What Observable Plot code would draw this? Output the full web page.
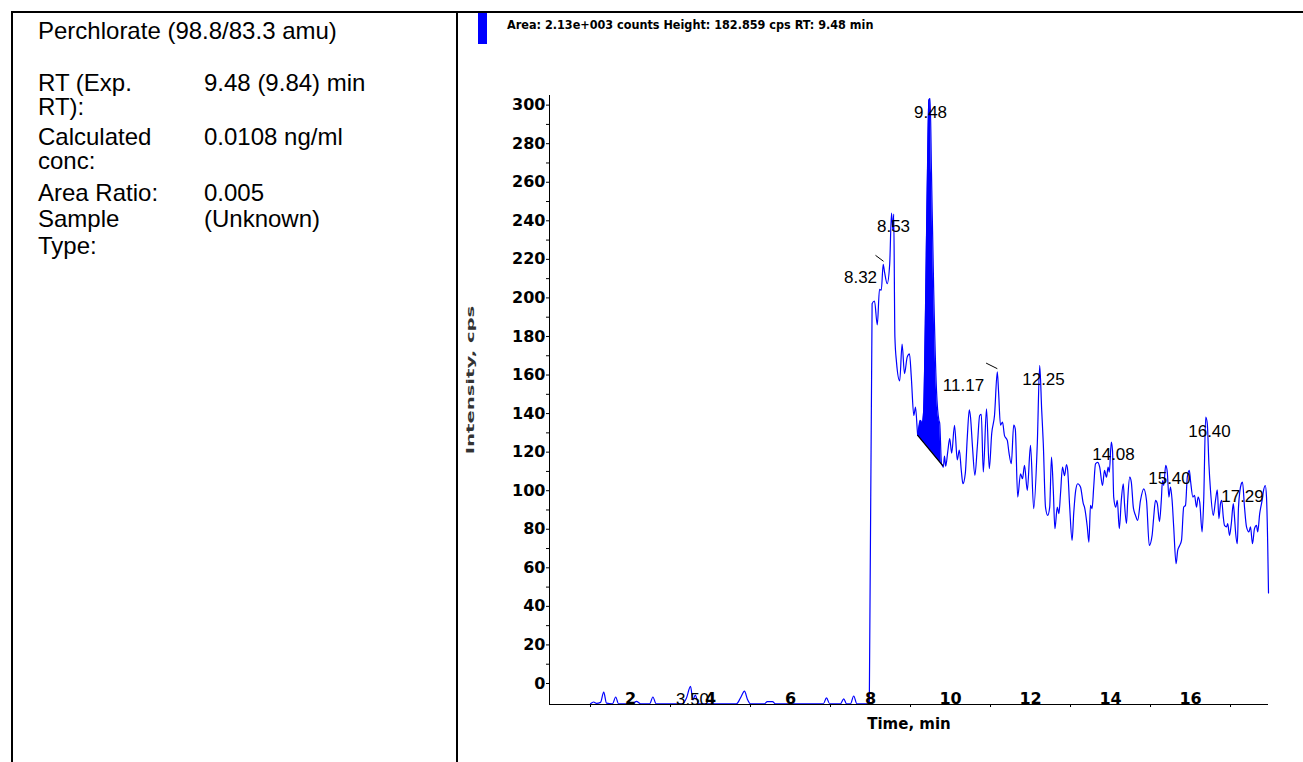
<!DOCTYPE html>
<html>
<head>
<meta charset="utf-8">
<script src="https://cdn.jsdelivr.net/npm/d3@7"></script>
<script src="https://cdn.jsdelivr.net/npm/@observablehq/plot@0.6"></script>
<style>
  body { margin: 0; background: #fff; }
  #page { position: relative; width: 1303px; height: 762px; overflow: hidden; font-family: "Liberation Sans", Arial, sans-serif; color: #000; }
  .ln { position: absolute; background: #000; }
  .t { position: absolute; font-size: 24px; line-height: 21px; white-space: nowrap; }
  #hdr { position: absolute; left: 507px; top: 19px; font-family: "Liberation Sans Narrow", "DejaVu Sans Condensed", sans-serif; font-weight: bold; font-size: 12.5px; line-height: 12.5px; white-space: nowrap; }
  #xlab { position: absolute; left: 909px; top: 717px; transform: translateX(-50%); font-family: "DejaVu Sans", sans-serif; font-weight: bold; font-size: 15px; line-height: 15px; white-space: nowrap; }
  #ylab { position: absolute; left: 471px; top: 380px; transform: translate(-50%, -50%) rotate(-90deg) scaleX(1.96); font-family: "DejaVu Sans", sans-serif; font-weight: bold; font-size: 10px; line-height: 10px; white-space: nowrap; color: #333; }
  #chart { position: absolute; left: 457px; top: 13px; }
</style>
</head>
<body>
<div id="page">
  <div class="ln" style="left:11px;top:11px;width:1292px;height:2px"></div>
  <div class="ln" style="left:11px;top:11px;width:2px;height:751px"></div>
  <div class="ln" style="left:456px;top:11px;width:2px;height:751px"></div>

  <div id="info"></div>

  <div style="position:absolute;left:478px;top:13px;width:9px;height:31px;background:#0000ff"></div>
  <div id="hdr"></div>
  <div id="ylab"></div>
  <div id="xlab"></div>
  <div id="chart"></div>
</div>
<script>
// ---- Left panel text ----
const infoLabels = ["RT (Exp.", "RT):", "Calculated", "conc:", "Area Ratio:", "Sample", "Type:"];
const infoValues = ["9.48 (9.84) min", "", "0.0108 ng/ml", "", "0.005", "(Unknown)", ""];
const infoTitle = "Perchlorate (98.8/83.3 amu)";
const infoBaselines = [91, 115, 145, 169, 201, 227, 254];

// ---- Chart texts ----
const headerText = "Area: 2.13e+003 counts Height: 182.859 cps RT: 9.48 min";
const xTitle = "Time, min";
const yTitle = "Intensity, cps";

// ---- Axis ticks ----
const yMajor = [0, 20, 40, 60, 80, 100, 120, 140, 160, 180, 200, 220, 240, 260, 280, 300];
const yMinor = [10, 30, 50, 70, 90, 110, 130, 150, 170, 190, 210, 230, 250, 270, 290];
const xMajor = [2, 4, 6, 8, 10, 12, 14, 16];
const xMinor = [1, 3, 5, 7, 9, 11, 13, 15, 17];

// ---- Chromatogram trace (retention time, min / intensity) ----
const rt = [
  1.00, 1.08, 1.15, 1.25, 1.33, 1.40, 1.55, 1.63, 1.70, 2.05, 2.15, 2.25, 2.48, 2.56, 2.64,
  3.30, 3.40, 3.50, 3.56, 3.62, 3.70, 4.65, 4.75, 4.85, 4.92, 5.00, 5.35, 5.42, 5.55, 5.62,
  6.82, 6.90, 6.98, 7.25, 7.33, 7.40, 7.50, 7.58, 7.66, 7.97,
  8.04, 8.10, 8.17, 8.225, 8.27, 8.317, 8.35, 8.417, 8.48, 8.525, 8.56, 8.58, 8.61, 8.65,
  8.73, 8.79, 8.85, 8.917, 8.975, 9.02, 9.083, 9.125, 9.17, 9.18, 9.25, 9.29, 9.33, 9.37,
  9.417, 9.46, 9.49, 9.525, 9.58, 9.65, 9.71, 9.73, 9.775, 9.80, 9.82, 9.85, 9.88, 9.93,
  9.98, 10.03, 10.10, 10.17, 10.22, 10.27, 10.31, 10.37, 10.42, 10.47, 10.50, 10.55, 10.61,
  10.67, 10.73, 10.77, 10.82, 10.90, 10.97, 11.03, 11.10, 11.17, 11.20, 11.25, 11.30, 11.35,
  11.42, 11.46, 11.52, 11.58, 11.62, 11.68, 11.75, 11.80, 11.85, 11.92, 12.00, 12.08, 12.17,
  12.23, 12.28, 12.32, 12.375, 12.43, 12.48, 12.525, 12.57, 12.61, 12.67, 12.71, 12.75, 12.80,
  12.85, 12.90, 12.93, 12.98, 13.04, 13.08, 13.13, 13.18, 13.25, 13.32, 13.35, 13.42, 13.46,
  13.50, 13.54, 13.58, 13.625, 13.68, 13.73, 13.80, 13.85, 13.90, 13.94, 13.97, 14.02, 14.05,
  14.08, 14.13, 14.17, 14.22, 14.27, 14.32, 14.35, 14.40, 14.43, 14.48, 14.52, 14.57, 14.625,
  14.68, 14.75, 14.83, 14.90, 14.97, 15.04, 15.08, 15.125, 15.17, 15.225, 15.27, 15.30, 15.33,
  15.38, 15.42, 15.46, 15.50, 15.54, 15.58, 15.64, 15.68, 15.73, 15.775, 15.83, 15.875, 15.92,
  15.97, 16.00, 16.06, 16.10, 16.15, 16.19, 16.23, 16.29, 16.33, 16.38, 16.42, 16.46, 16.50,
  16.57, 16.625, 16.67, 16.71, 16.75, 16.78, 16.82, 16.85, 16.90, 16.93, 16.975, 17.02, 17.07,
  17.10, 17.13, 17.17, 17.20, 17.27, 17.30, 17.35, 17.40, 17.46, 17.50, 17.55, 17.60, 17.65,
  17.68, 17.73, 17.79, 17.83, 17.87, 17.90, 17.93, 17.95
];
const cps = [
  -10.5, -9.6, -10.3, -9.8, -4.5, -10.2, -10.5, -7, -10.5, -10.5, -9.3, -10.5, -10.5, -7, -10.5,
  -10.5, -7.5, -1.5, -8.5, -6, -10.5, -10.5, -7.5, -4, -8, -10.5, -10.5, -9.4, -9.4, -10.5,
  -10.5, -7.5, -10.5, -10.5, -8, -10.5, -10.5, -6.5, -10.5, -10.5,
  197, 198.4, 186, 204.5, 204, 217.4, 213.5, 207.4, 217.6, 244, 235, 243.5, 179.7, 166.7,
  157, 176, 160.7, 169.3, 171, 159, 139, 143.4, 131.3, 128.7, 136.5, 135, 141.7, 186.7,
  255.8, 302.5, 303.4, 264.5, 204, 152, 136.5, 135, 114, 113.1, 112.2, 118, 112.7, 120,
  127, 119.5, 133.9, 116, 121.1, 110.5, 103.6, 109, 127.8, 142, 138.2, 122.7, 108,
  122.7, 139, 139.6, 109.7, 142.5, 111.4, 129.6, 139, 161.6, 152, 134, 135.6, 128.6,
  126.1, 120, 114, 134, 132, 96.7, 108.8, 106.2, 113.1, 100.2, 123.5, 90.7, 124.4,
  165, 141.7, 124.4, 91.5, 87.2, 91.5, 117.4, 100.2, 80.3, 91.5, 88.1, 98.4, 112.2,
  107.8, 113.6, 110.5, 91.5, 74.2, 88.1, 100.2, 103.6, 101.9, 93.3, 91.5, 81.2, 73.3,
  92.4, 90.7, 101.9, 113.9, 114.7, 112.2, 102.7, 110.5, 107, 112.2, 109.6, 125.2, 120.9,
  96.7, 91.5, 95, 80.3, 95, 103.6, 93.3, 83, 95, 107, 104.5, 91.5, 87.2,
  84.6, 95, 101, 95, 71.6, 76.8, 86.3, 95, 93.3, 84, 95, 105.3, 102.7,
  113.1, 109.6, 96.7, 101.9, 95, 81.2, 62.1, 69, 71.6, 74.2, 91.5, 92.4, 107,
  110.5, 105.3, 96.7, 97.6, 91.5, 96.7, 94.1, 78.6, 95, 138.2, 134.7, 114, 100.2,
  87.2, 95, 100.5, 85.5, 93.3, 95, 86.3, 82, 81.2, 82.9, 76.8, 82.9, 93.3,
  86.3, 77.7, 72.5, 91.5, 103.6, 104.5, 91.5, 81.2, 78.6, 81.2, 72.5, 80.3, 82,
  78.6, 88.1, 95, 100.5, 102.7, 96.7, 72.5, 47
];

// ---- Integrated peak (baseline endpoints) ----
const baseT = [9.18, 9.80];
const baseV = [128.7, 113.1];

// ---- Peak labels ----
const peakText = ["9.48", "8.53", "8.32", "11.17", "12.25", "14.08", "15.40", "16.40", "17.29", "3.50"];
const peakT = [9.50, 8.575, 7.75, 10.325, 12.325, 14.075, 15.475, 16.475, 17.30, 3.55];
const peakV = [296, 237, 210.7, 154.6, 157.8, 118.8, 106.4, 130.8, 97, -8.3];

// ---- Peak marker ticks ----
const markT1 = [8.125, 10.89];
const markV1 = [222.1, 166.2];
const markT2 = [8.325, 11.17];
const markV2 = [219.0, 163.3];

// ---- Build left panel ----
const info = document.getElementById("info");
function addText(str, left, baseline) {
  const d = document.createElement("div");
  d.className = "t";
  d.textContent = str;
  d.style.left = left + "px";
  d.style.top = (baseline - 18.8) + "px";
  info.appendChild(d);
}
addText(infoTitle, 38, 39);
infoLabels.forEach((s, i) => addText(s, 38, infoBaselines[i]));
infoValues.forEach((s, i) => { if (s) addText(s, 204, infoBaselines[i]); });

document.getElementById("hdr").textContent = headerText;
document.getElementById("xlab").textContent = xTitle;
document.getElementById("ylab").textContent = yTitle;

// ---- Chart ----
const trace = rt.map((t, i) => ({t, v: cps[i]}));
const interpBase = t => baseV[0] + (baseV[1] - baseV[0]) * (t - baseT[0]) / (baseT[1] - baseT[0]);
const fillData = trace.filter(d => d.t >= baseT[0] && d.t <= baseT[1]).map(d => ({t: d.t, v: d.v, b: interpBase(d.t)}));
const baseLine = baseT.map((t, i) => ({t, v: baseV[i]}));
const peaks = peakText.map((s, i) => ({s, t: peakT[i], v: peakV[i]}));
const marks = markT1.map((t, i) => ({t1: t, v1: markV1[i], t2: markT2[i], v2: markV2[i]}));

const xMin = -0.025, xMax = 17.95, yMin = -10.9, yMax = 305;
const tickFont = "DejaVu Sans";

const chart = Plot.plot({
  width: 846,
  height: 749,
  marginLeft: 92,
  marginRight: 35,
  marginTop: 82,
  marginBottom: 58,
  style: {background: "transparent", overflow: "visible"},
  x: {domain: [xMin, xMax], label: null},
  y: {domain: [yMin, yMax], label: null},
  marks: [
    Plot.areaY(fillData, {x: "t", y1: "b", y2: "v", fill: "#0000ff", curve: "monotone-x"}),
    Plot.line(trace, {x: "t", y: "v", stroke: "#0000ff", strokeWidth: 1.2, curve: "monotone-x"}),
    Plot.line(baseLine, {x: "t", y: "v", stroke: "#000", strokeWidth: 1.3}),
    Plot.link(marks, {x1: "t1", y1: "v1", x2: "t2", y2: "v2", stroke: "#000", strokeWidth: 1}),
    Plot.ruleX([xMin], {stroke: "#000", strokeWidth: 1}),
    Plot.ruleY([yMin], {stroke: "#000", strokeWidth: 1}),
    Plot.axisY(yMajor, {anchor: "left", tickSize: 3, tickPadding: 1, fontSize: 16, fontWeight: "bold", fontFamily: tickFont, fill: "#000", label: null}),
    Plot.axisY(yMinor, {anchor: "left", tickSize: 3, tickFormat: () => "", label: null}),
    Plot.axisX(xMinor, {anchor: "bottom", tickSize: 3, tickFormat: () => "", label: null}),
    Plot.text(xMajor, {x: d => d, frameAnchor: "bottom", lineAnchor: "bottom", dy: -1, text: d => String(d), fontSize: 16, fontWeight: "bold", fontFamily: tickFont, fill: "#000"}),
    Plot.text(peaks, {x: "t", y: "v", text: "s", fontSize: 17, fontFamily: "Liberation Sans", fill: "#000"})
  ]
});
document.getElementById("chart").appendChild(chart);
</script>
</body>
</html>
